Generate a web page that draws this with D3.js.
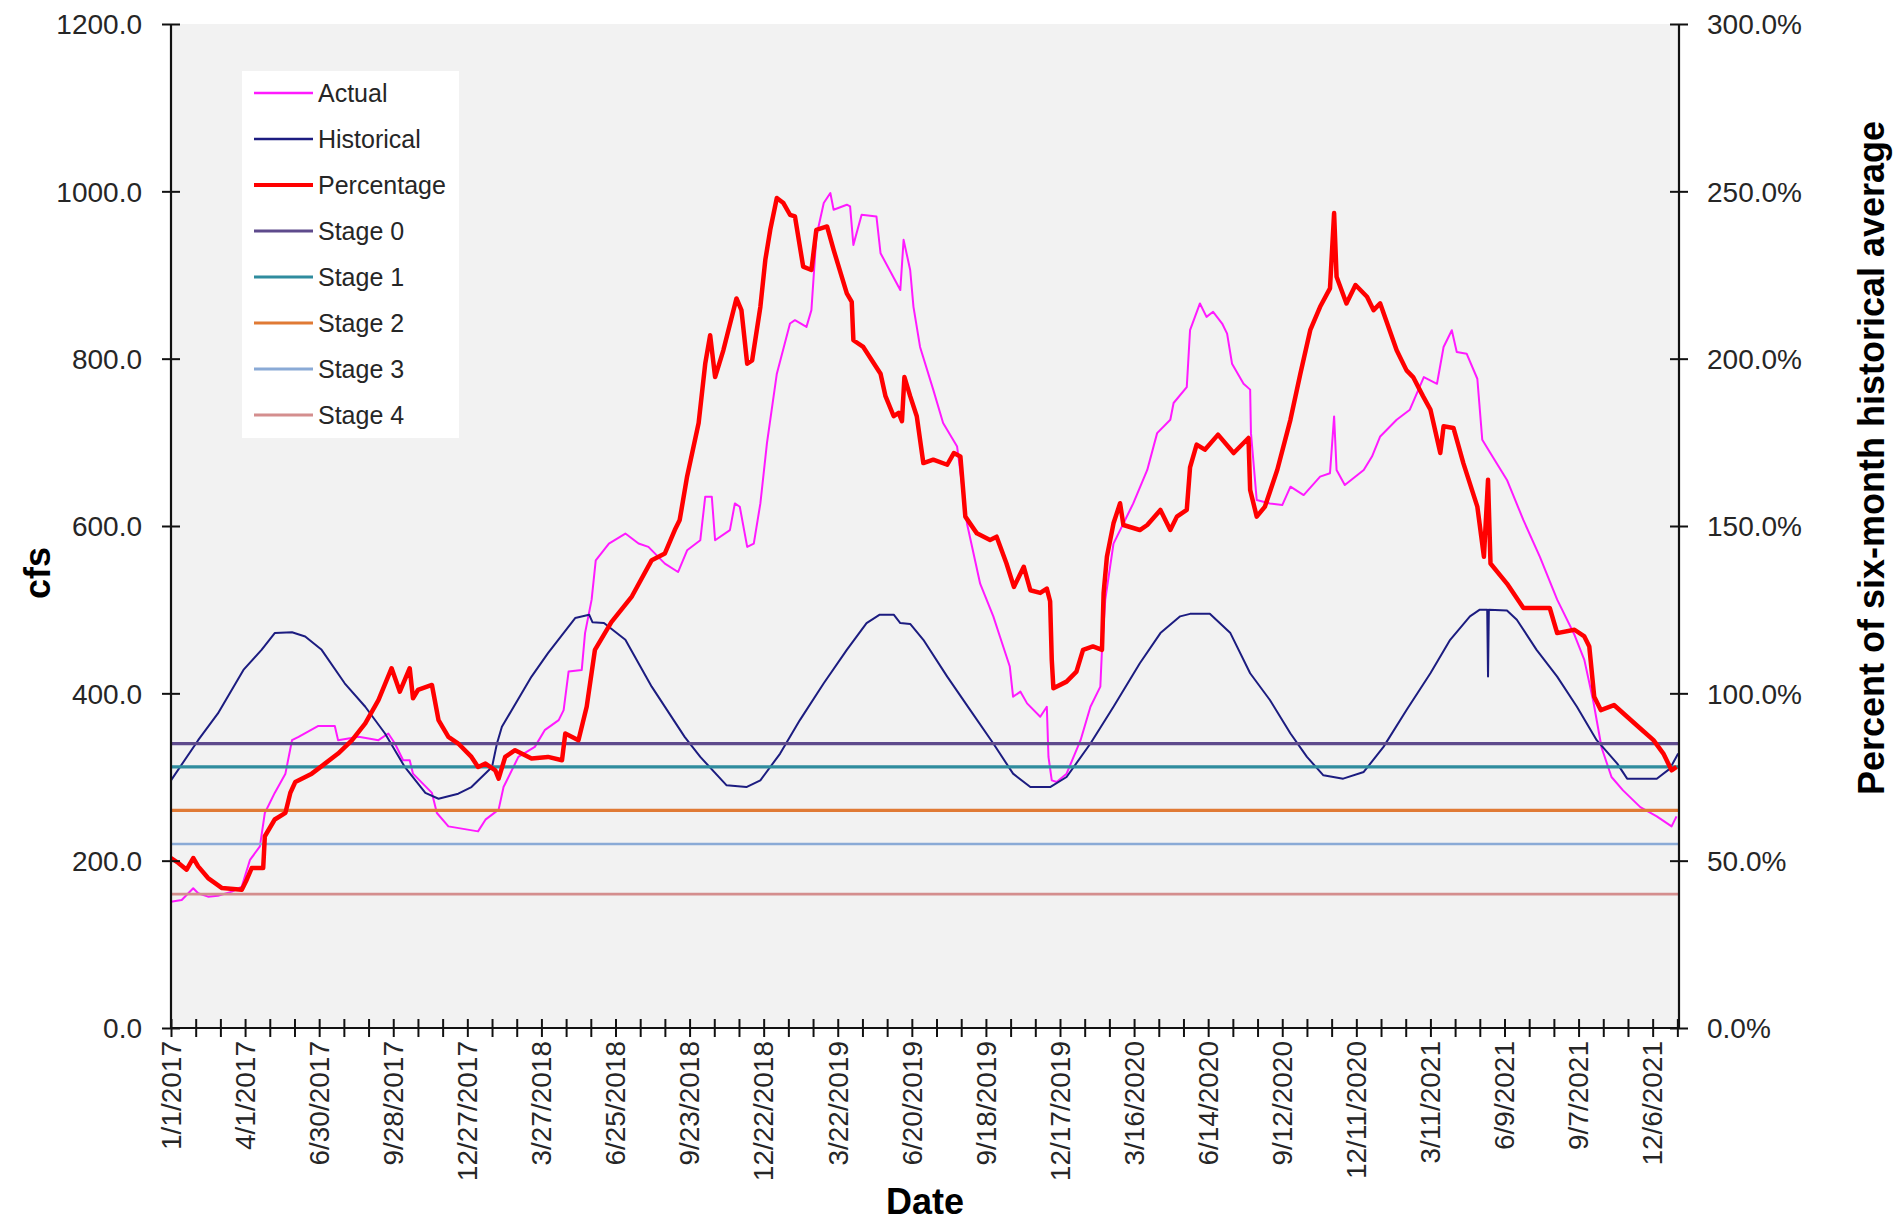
<!DOCTYPE html>
<html><head><meta charset="utf-8">
<script src="https://cdn.jsdelivr.net/npm/d3@7"></script>
<style>
body{margin:0;background:#fff;}
text{font-family:"Liberation Sans",Arial,sans-serif;}
</style>
</head><body>
<svg id="chart" width="1901" height="1221"></svg>
<script>
// ---------------- data ----------------
const startDate = "2017-01-01";
const endDate = "2022-01-07";
const xTickLabels = ["1/1/2017","4/1/2017","6/30/2017","9/28/2017","12/27/2017","3/27/2018","6/25/2018",
  "9/23/2018","12/22/2018","3/22/2019","6/20/2019","9/18/2019","12/17/2019","3/16/2020","6/14/2020",
  "9/12/2020","12/11/2020","3/11/2021","6/9/2021","9/7/2021","12/6/2021"];
const cfsTicks = [0,200,400,600,800,1000,1200];
const pctTicks = [0,50,100,150,200,250,300];
const seriesNames = ["Actual","Historical","Percentage"];
const stageNames = ["Stage 0","Stage 1","Stage 2","Stage 3","Stage 4"];
const stageValues = [85,78,65,55,40]; // percent of six-month historical average

// [days since 1/1/2017, cfs]
const actual = [[0,151],[13,153],[27,167],[33,161],[45,157],[57,158],[74,163],[86,169],[96,201],[108,217],[114,257],[126,281],[139,304],[147,344],[155,348],[179,361],[199,361],[203,344],[228,348],[252,344],[264,352],[272,340],[282,320],[290,320],[294,304],[317,281],[323,257],[337,241],[373,235],[382,249],[398,261],[404,288],[422,324],[442,336],[454,356],[471,368],[477,380],[483,426],[499,428],[503,472],[511,512],[516,559],[532,579],[552,591],[568,579],[580,575],[600,555],[616,545],[627,571],[643,583],[649,635],[657,635],[661,583],[679,595],[685,627],[691,623],[700,575],[708,579],[716,627],[724,699],[736,782],[752,842],[758,846],[772,838],[778,858],[784,946],[793,986],[801,998],[805,978],[821,984],[825,982],[829,936],[839,972],[857,970],[862,926],[886,882],[890,942],[898,906],[902,862],[910,814],[926,763],[938,723],[955,695],[967,603],[983,531],[999,492],[1007,468],[1019,432],[1023,396],[1032,402],[1040,388],[1056,372],[1064,384],[1066,324],[1070,296],[1076,294],[1088,304],[1105,344],[1117,384],[1129,408],[1131,452],[1135,512],[1145,579],[1169,627],[1186,667],[1198,711],[1214,727],[1218,747],[1234,766],[1238,834],[1250,866],[1258,850],[1266,856],[1277,842],[1283,830],[1289,794],[1303,770],[1311,763],[1312,711],[1319,631],[1335,627],[1350,625],[1360,647],[1376,637],[1396,659],[1408,663],[1413,731],[1416,667],[1426,649],[1449,667],[1459,683],[1469,707],[1489,727],[1505,739],[1522,778],[1538,770],[1546,814],[1556,834],[1562,808],[1574,806],[1587,776],[1593,703],[1603,687],[1623,655],[1643,607],[1663,563],[1684,512],[1705,470],[1717,440],[1728,390],[1738,335],[1750,300],[1764,284],[1785,264],[1805,253],[1823,241],[1829,253]];

// [days since 1/1/2017, cfs]
const historical = [[0,296],[33,344],[57,376],[88,428],[110,452],[126,472],[147,473],[163,468],[183,452],[211,412],[236,384],[260,352],[284,312],[309,281],[325,274],[349,280],[365,288],[390,312],[396,340],[402,360],[438,420],[458,448],[491,490],[508,494],[512,485],[526,484],[552,464],[584,408],[624,348],[643,324],[675,290],[699,288],[716,296],[740,328],[764,368],[793,412],[821,452],[845,484],[861,494],[878,494],[886,484],[898,483],[914,464],[943,420],[971,380],[999,340],[1023,304],[1044,288],[1068,288],[1088,300],[1117,340],[1145,384],[1177,436],[1202,472],[1226,492],[1238,495],[1262,495],[1287,472],[1311,424],[1335,392],[1360,352],[1380,324],[1400,302],[1424,298],[1449,306],[1473,336],[1501,380],[1530,424],[1554,464],[1578,492],[1590,500],[1599,500],[1600,420],[1601,500],[1623,499],[1635,488],[1659,452],[1684,420],[1708,384],[1732,344],[1757,316],[1769,298],[1805,298],[1821,310],[1831,328]];

// [days since 1/1/2017, percent]
const percentage = [[0,50.8],[9,49.3],[19,47.3],[27,50.8],[33,48.3],[45,44.8],[62,41.8],[86,41.3],[92,44.3],[98,47.8],[112,47.8],[114,57.3],[126,62.3],[139,64.3],[145,70.3],[151,73.5],[171,76],[187,79],[203,82],[220,86],[236,91],[252,98],[268,107.5],[278,100.5],[290,107.5],[294,98.5],[300,101],[317,102.5],[325,92],[337,87],[349,85],[365,81],[373,78],[382,79],[394,77],[398,74.5],[406,81],[418,83],[438,80.5],[458,81],[475,80],[479,88],[495,86],[505,96],[515,113],[535,121.3],[560,129],[584,139.8],[600,141.8],[612,148.8],[618,151.8],[627,164.8],[641,180.8],[649,198.5],[655,207],[661,194.5],[671,202.5],[687,218],[693,214.5],[700,198.5],[706,199.5],[716,215.5],[722,229.5],[728,238.5],[736,248],[744,246.5],[752,243],[758,242.5],[768,227.5],[778,226.5],[784,238.5],[797,239.5],[805,232.5],[821,219.5],[827,217],[829,205.5],[841,203.5],[862,195.5],[868,188.8],[878,182.8],[884,183.8],[888,181.3],[891,194.5],[898,188.8],[906,182.8],[914,168.8],[926,169.8],[943,168.3],[951,171.8],[959,170.8],[965,152.8],[979,147.8],[995,145.8],[1003,146.8],[1015,138.8],[1024,131.8],[1036,137.8],[1044,130.8],[1056,130],[1064,131.3],[1068,127.5],[1070,110],[1072,101.5],[1088,103.5],[1100,106.5],[1108,113],[1120,114],[1131,113],[1133,130],[1137,140.8],[1145,150.8],[1153,156.8],[1157,150.3],[1177,148.8],[1186,150.3],[1202,154.8],[1214,148.8],[1222,152.8],[1234,154.8],[1238,167.5],[1246,174.3],[1256,172.8],[1272,177.3],[1291,171.8],[1309,176.3],[1311,160.8],[1319,152.8],[1329,155.8],[1344,166.8],[1360,181.8],[1372,195.5],[1384,208.5],[1396,215.5],[1408,221],[1413,243.5],[1416,224.5],[1428,216.5],[1439,222],[1453,218.5],[1461,214.5],[1469,216.5],[1489,202.5],[1501,196.5],[1509,194.5],[1521,188.8],[1530,184.8],[1542,171.8],[1546,179.8],[1558,179.3],[1570,168.8],[1587,155.8],[1595,140.8],[1600,163.8],[1603,138.8],[1623,132.8],[1643,125.5],[1663,125.5],[1675,125.5],[1684,118],[1705,119],[1717,117],[1723,114],[1729,99],[1737,95],[1753,96.5],[1769,93],[1785,89.5],[1801,86],[1813,82],[1823,77],[1829,78]];

// ---------------- style ----------------
const W = 1901, H = 1221;
const plot = {left:171, right:1679, top:24, bottom:1028};
const seriesColors = {Actual:"#ff1aff", Historical:"#1c1c80", Percentage:"#ff0000"};
const seriesWidths = {Actual:2, Historical:2, Percentage:4.5};
const stageColors = ["#5e4a8c","#2f8c9e","#e07a35","#8aaad6","#d48e8e"];
const stageWidths = [3.2,3.2,3.2,2.6,2.6];
const textColor = "#262626";

const svg = d3.select("#chart");
svg.append("rect").attr("width",W).attr("height",H).attr("fill","#fff");

const parseUTC = d3.utcParse("%Y-%m-%d");
const t0 = parseUTC(startDate);
const day = d => d3.utcDay.offset(t0, d);

const x = d3.scaleUtc().domain([t0, parseUTC(endDate)]).range([plot.left, plot.right]);
const yL = d3.scaleLinear().domain([0,1200]).range([plot.bottom, plot.top]);
const yR = d3.scaleLinear().domain([0,300]).range([plot.bottom, plot.top]);

// plot background
svg.append("rect").attr("x",plot.left).attr("y",plot.top)
  .attr("width",plot.right-plot.left).attr("height",plot.bottom-plot.top).attr("fill","#f2f2f2");

const g = svg.append("g");

const lineL = d3.line().x(d=>x(day(d[0]))).y(d=>yL(d[1]));
const lineR = d3.line().x(d=>x(day(d[0]))).y(d=>yR(d[1]));

g.append("path").datum(actual).attr("d",lineL).attr("fill","none")
  .attr("stroke",seriesColors.Actual).attr("stroke-width",seriesWidths.Actual).attr("stroke-linejoin","round");
g.append("path").datum(historical).attr("d",lineL).attr("fill","none")
  .attr("stroke",seriesColors.Historical).attr("stroke-width",seriesWidths.Historical).attr("stroke-linejoin","round");

stageValues.forEach((v,i)=>{
  g.append("line").attr("x1",plot.left).attr("x2",plot.right)
    .attr("y1",yR(v)).attr("y2",yR(v))
    .attr("stroke",stageColors[i]).attr("stroke-width",stageWidths[i]);
});

g.append("path").datum(percentage).attr("d",lineR).attr("fill","none")
  .attr("stroke",seriesColors.Percentage).attr("stroke-width",seriesWidths.Percentage).attr("stroke-linejoin","round");

// ---------------- axes ----------------
const axisColor = "#111";
function styleAxis(sel){
  sel.select(".domain").remove();
  sel.selectAll(".tick line").attr("stroke",axisColor).attr("stroke-width",2);
  sel.selectAll(".tick text").attr("fill",textColor).style("font-size","28px")
    .style("font-family",'"Liberation Sans",Arial,sans-serif');
}

// left
const axL = svg.append("g").attr("transform",`translate(${plot.left},0)`)
  .call(d3.axisLeft(yL).tickValues(cfsTicks).tickFormat(d3.format(".1f")));
styleAxis(axL);
axL.selectAll(".tick line").attr("x1",-9).attr("x2",9);
axL.selectAll(".tick text").attr("x",-29).attr("dy","0.35em");

// right
const axR = svg.append("g").attr("transform",`translate(${plot.right},0)`)
  .call(d3.axisRight(yR).tickValues(pctTicks).tickFormat(d=>d3.format(".1f")(d)+"%"));
styleAxis(axR);
axR.selectAll(".tick line").attr("x1",-9).attr("x2",9);
axR.selectAll(".tick text").attr("x",28).attr("dy","0.35em");

// bottom minor ticks (every 30 days)
const minorDays = d3.range(0, 1831, 30).map(day);
const axB = svg.append("g").attr("transform",`translate(0,${plot.bottom})`)
  .call(d3.axisBottom(x).tickValues(minorDays).tickFormat(""));
styleAxis(axB);
axB.selectAll(".tick line").attr("y1",-9).attr("y2",9);

// bottom labels (every 90 days)
const labelDays = xTickLabels.map((s,i)=>day(i*90));
const lab = svg.append("g");
lab.selectAll("g").data(labelDays).join("g")
  .attr("transform",d=>`translate(${x(d)},${plot.bottom+13}) rotate(-90)`)
  .append("text").attr("text-anchor","end").attr("dy","0.35em")
  .attr("fill",textColor).style("font-size","28px")
  .text((d,i)=>xTickLabels[i]);

// axis lines
svg.append("line").attr("x1",plot.left).attr("x2",plot.left).attr("y1",plot.top).attr("y2",plot.bottom)
  .attr("stroke",axisColor).attr("stroke-width",2.2);
svg.append("line").attr("x1",plot.right).attr("x2",plot.right).attr("y1",plot.top).attr("y2",plot.bottom)
  .attr("stroke",axisColor).attr("stroke-width",2.2);
svg.append("line").attr("x1",plot.left).attr("x2",plot.right).attr("y1",plot.bottom).attr("y2",plot.bottom)
  .attr("stroke",axisColor).attr("stroke-width",2.2);

// titles
svg.append("text").attr("x",(plot.left+plot.right)/2).attr("y",1214).attr("text-anchor","middle")
  .attr("fill","#000").style("font-size","36px").style("font-weight","bold").text("Date");
svg.append("text").attr("transform","translate(50,573) rotate(-90)").attr("text-anchor","middle")
  .attr("fill","#000").style("font-size","36px").style("font-weight","bold").text("cfs");
svg.append("text").attr("transform","translate(1884,458) rotate(-90)").attr("text-anchor","middle")
  .attr("fill","#000").style("font-size","36px").style("font-weight","bold")
  .text("Percent of six-month historical average");

// ---------------- legend ----------------
const legItems = seriesNames.map(n=>({name:n,color:seriesColors[n],w:n==="Percentage"?4:2.5}))
  .concat(stageNames.map((n,i)=>({name:n,color:stageColors[i],w:3})));
const leg = svg.append("g");
leg.append("rect").attr("x",242).attr("y",71).attr("width",217).attr("height",367).attr("fill","#fff");
legItems.forEach((it,i)=>{
  const yy = 93 + i*46;
  leg.append("line").attr("x1",254).attr("x2",313).attr("y1",yy).attr("y2",yy)
    .attr("stroke",it.color).attr("stroke-width",it.w);
  leg.append("text").attr("x",318).attr("y",yy).attr("dy","0.35em")
    .attr("fill",textColor).style("font-size","25px").text(it.name);
});
</script>
</body></html>
